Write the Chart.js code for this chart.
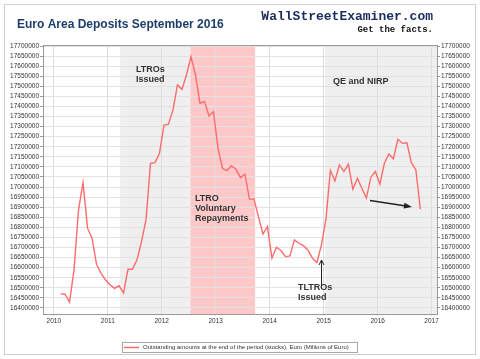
<!DOCTYPE html>
<html>
<head>
<meta charset="utf-8">
<script src="https://cdn.jsdelivr.net/npm/chart.js@4.4.0/dist/chart.umd.min.js"></script>
<style>
  html, body { margin: 0; padding: 0; background: #fff; }
  #wrap { width: 480px; height: 359px; }
</style>
</head>
<body>
<div id="wrap"><canvas id="depositsChart" width="480" height="359"></canvas></div>
<script>
// monthly observations, Jan 2010 .. Sep 2016 (millions of euro)
const firstMonth = 2010 + 1.5 / 12;
const deposits = [
  16470000, 16468000, 16429000, 16589000, 16887000, 17022000, 16796000, 16746000,
  16617000, 16572000, 16539000, 16515000, 16497000, 16510000, 16475000, 16592000,
  16592000, 16639000, 16729000, 16837000, 17118000, 17121000, 17168000, 17308000,
  17312000, 17383000, 17507000, 17485000, 17556000, 17647000, 17556000, 17416000,
  17424000, 17353000, 17374000, 17193000, 17093000, 17082000, 17106000, 17088000,
  17047000, 17064000, 16940000, 16941000, 16853000, 16767000, 16804000, 16647000,
  16701000, 16685000, 16655000, 16658000, 16738000, 16721000, 16709000, 16688000,
  16647000, 16625000, 16713000, 16840000, 17082000, 17030000, 17110000, 17077000,
  17113000, 16989000, 17044000, 16994000, 16945000, 17049000, 17077000, 17014000,
  17118000, 17164000, 17140000, 17237000, 17217000, 17220000, 17121000, 17085000,
  16890000
];
const seriesName = "Outstanding amounts at the end of the period (stocks), Euro (Millions of Euro)";

const yearTicks = [2010, 2011, 2012, 2013, 2014, 2015, 2016, 2017];
const depositTicks = [
  16400000, 16450000, 16500000, 16550000, 16600000, 16650000, 16700000,
  16750000, 16800000, 16850000, 16900000, 16950000, 17000000, 17050000,
  17100000, 17150000, 17200000, 17250000, 17300000, 17350000, 17400000,
  17450000, 17500000, 17550000, 17600000, 17650000, 17700000
];

// shaded periods [from, to, colour]
const bandStarts = [2011.23, 2012.53, 2015.03];
const bandEnds = [2012.53, 2013.73, 2017.1];
const bandColors = ["#efefef", "#ffc8c8", "#efefef"];

const yMin = 16370000;
const yMax = 17705000;

const points = deposits.map((v, i) => ({ x: firstMonth + i / 12, y: v }));

const gridColor = "#e2e2e2";
const axisColor = "#9a9a9a";
const tickFont = { family: "Arial, 'Liberation Sans'", size: 6.5 };

function setTicks(list) {
  return (scale) => {
    scale.ticks = list.map((v) => ({ value: v }));
  };
}

const decorations = {
  id: "decorations",
  beforeDraw(chart) {
    const ctx = chart.ctx;
    const a = chart.chartArea;
    const x = chart.scales.x;
    ctx.save();
    ctx.fillStyle = "#fff";
    ctx.fillRect(0, 0, chart.width, chart.height);
    ctx.strokeStyle = "#cfcfcf";
    ctx.lineWidth = 1;
    ctx.strokeRect(4.5, 4.5, 471, 350);
    for (let i = 0; i < bandStarts.length; i++) {
      const x0 = Math.max(a.left, x.getPixelForValue(bandStarts[i]));
      const x1 = Math.min(a.right, x.getPixelForValue(bandEnds[i]));
      ctx.fillStyle = bandColors[i];
      ctx.fillRect(x0, a.top, x1 - x0, a.bottom - a.top);
    }
    ctx.restore();
  },
  afterDraw(chart) {
    const ctx = chart.ctx;
    const a = chart.chartArea;
    ctx.save();
    ctx.strokeStyle = axisColor;
    ctx.lineWidth = 1;
    ctx.strokeRect(Math.round(a.left) + 0.5, Math.round(a.top) + 0.5,
      Math.round(a.right - a.left), Math.round(a.bottom - a.top));

    // headings
    ctx.textBaseline = "middle";
    ctx.fillStyle = "#1d3d6b";
    ctx.font = "bold 12px Arial, 'Liberation Sans'";
    ctx.fillText("Euro Area Deposits September 2016", 17, 25);
    ctx.textAlign = "right";
    ctx.fillStyle = "#1a2d5c";
    ctx.font = "bold 13px 'Liberation Mono', 'DejaVu Sans Mono'";
    ctx.fillText("WallStreetExaminer.com", 433, 17);
    ctx.fillStyle = "#111";
    ctx.font = "bold 9px 'Liberation Mono', 'DejaVu Sans Mono'";
    ctx.fillText("Get the facts.", 433, 30);

    // notes
    ctx.textAlign = "left";
    ctx.fillStyle = "#333";
    ctx.font = "bold 9px Arial, 'Liberation Sans'";
    ctx.fillText("LTROs", 136, 70);
    ctx.fillText("Issued", 136, 80);
    ctx.fillText("LTRO", 195, 199);
    ctx.fillText("Voluntary", 195, 209);
    ctx.fillText("Repayments", 195, 219);
    ctx.fillText("QE and NIRP", 333, 82);
    ctx.fillText("TLTROs", 298, 288);
    ctx.fillText("Issued", 298, 298);

    // arrows
    ctx.strokeStyle = "#222";
    ctx.fillStyle = "#222";
    ctx.lineWidth = 1;
    ctx.beginPath();
    ctx.moveTo(321.5, 286);
    ctx.lineTo(321.5, 261);
    ctx.stroke();
    ctx.beginPath();
    ctx.moveTo(319, 265);
    ctx.lineTo(321.5, 260);
    ctx.lineTo(324, 265);
    ctx.stroke();
    ctx.lineWidth = 1.3;
    ctx.beginPath();
    ctx.moveTo(370, 200.5);
    ctx.lineTo(406, 206);
    ctx.stroke();
    ctx.beginPath();
    ctx.moveTo(412, 207);
    ctx.lineTo(404.5, 202.8);
    ctx.lineTo(403.6, 208.6);
    ctx.closePath();
    ctx.fill();

    // legend
    ctx.strokeStyle = "#a8a8a8";
    ctx.lineWidth = 1;
    ctx.strokeRect(122.5, 342.5, 235, 10);
    ctx.strokeStyle = "#ff6b6b";
    ctx.lineWidth = 1.5;
    ctx.beginPath();
    ctx.moveTo(124, 347.5);
    ctx.lineTo(139, 347.5);
    ctx.stroke();
    ctx.fillStyle = "#333";
    ctx.font = "6px Arial, 'Liberation Sans'";
    ctx.fillText(seriesName, 143, 347.8);
    ctx.restore();
  }
};

new Chart(document.getElementById("depositsChart"), {
  type: "line",
  data: {
    datasets: [
      {
        label: seriesName,
        data: points,
        borderColor: "#ff6b6b",
        backgroundColor: "#ff6b6b",
        borderWidth: 1.4,
        pointRadius: 0,
        tension: 0,
        yAxisID: "y",
      },
    ],
  },
  options: {
    responsive: false,
    animation: false,
    devicePixelRatio: 1,
    layout: { padding: { top: 45, left: 0, right: 0, bottom: 0 } },
    plugins: {
      legend: { display: false },
      title: { display: false },
      tooltip: { enabled: false },
    },
    scales: {
      x: {
        type: "linear",
        min: 2009.8,
        max: 2017.1,
        afterBuildTicks: setTicks(yearTicks),
        afterFit: (scale) => {
          scale.height = 45;
        },
        ticks: {
          padding: 1,
          color: "#333",
          font: tickFont,
          autoSkip: false,
          maxRotation: 0,
          callback: (v) => String(v),
        },
        grid: { color: "#dcdcdc", tickLength: 2 },
        border: { color: axisColor },
      },
      y: {
        position: "left",
        min: yMin,
        max: yMax,
        afterBuildTicks: setTicks(depositTicks),
        afterFit: (scale) => {
          scale.width = 43;
        },
        ticks: {
          padding: 1,
          color: "#333",
          font: tickFont,
          autoSkip: false,
          callback: (v) => String(v),
        },
        grid: { color: gridColor, tickColor: axisColor, tickLength: 3 },
        border: { color: axisColor },
      },
      y2: {
        position: "right",
        display: true,
        min: yMin,
        max: yMax,
        afterBuildTicks: setTicks(depositTicks),
        afterFit: (scale) => {
          scale.width = 43;
        },
        ticks: {
          padding: 1,
          color: "#333",
          font: tickFont,
          autoSkip: false,
          callback: (v) => String(v),
        },
        grid: { drawOnChartArea: false, tickColor: axisColor, tickLength: 3 },
        border: { color: axisColor },
      },
    },
  },
  plugins: [decorations],
});
</script>
</body>
</html>
